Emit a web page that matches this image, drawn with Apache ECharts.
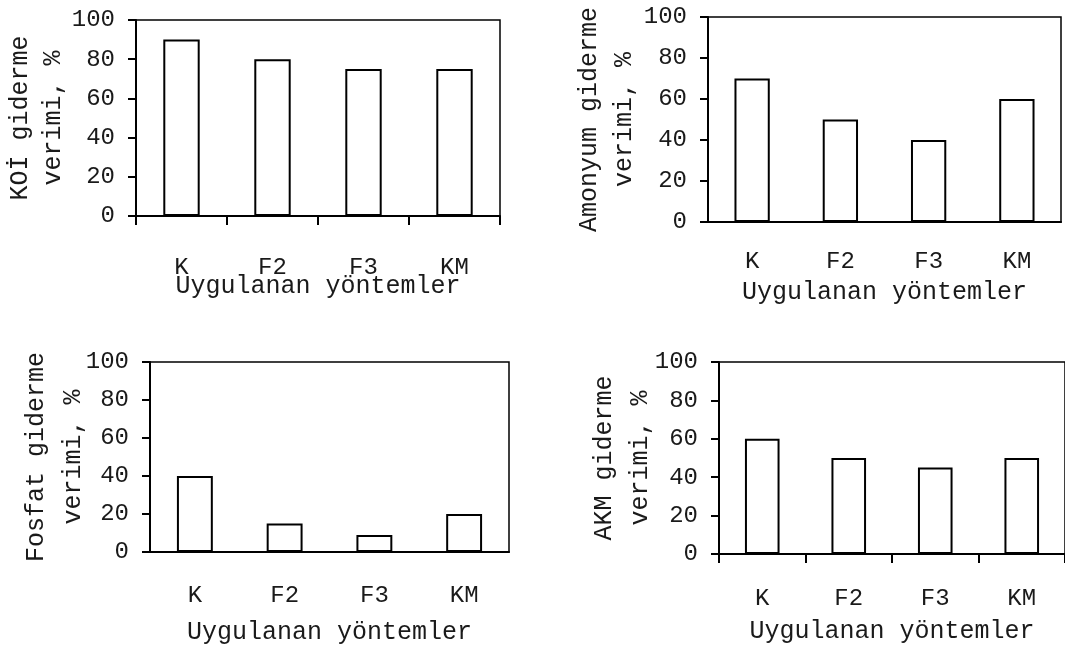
<!DOCTYPE html>
<html>
<head>
<meta charset="utf-8">
<script src="https://cdn.jsdelivr.net/npm/echarts@6/dist/echarts.min.js"></script>
<style>
html,body{margin:0;padding:0;background:#fff;}
#chart{width:1065px;height:648px;}
</style>
</head>
<body>
<div id="chart"></div>
<script>
const categories = ['K', 'F2', 'F3', 'KM'];
const koiValues = [90, 80, 75, 75];
const amonyumValues = [70, 50, 40, 60];
const fosfatValues = [40, 15, 9, 20];
const akmValues = [60, 50, 45, 50];
const yNames = ['KOİ giderme\nverimi, %', 'Amonyum giderme\nverimi, %', 'Fosfat giderme\nverimi, %', 'AKM giderme\nverimi, %'];
const xName = 'Uygulanan yöntemler';

const FONT = '"Courier New", Courier, "Nimbus Mono PS", "Nimbus Mono L", FreeMono, "Liberation Mono", monospace';
const TXT = '#1a1a1a';

const panels = [
  {data: koiValues, grid: {left: 136, top: 20, right: 565, bottom: 432}, xTicks: true, labelMargin: 40, xNameGap: 58, yNameGap: 66, lh: 33},
  {data: amonyumValues, grid: {left: 708, top: 17, right: 4, bottom: 426}, xTicks: false, labelMargin: 28, xNameGap: 58, yNameGap: 66, lh: 35},
  {data: fosfatValues, grid: {left: 150, top: 362, right: 556, bottom: 96}, xTicks: false, labelMargin: 32, xNameGap: 68, yNameGap: 58, lh: 37},
  {data: akmValues, grid: {left: 719, top: 362, right: -6, bottom: 94}, xTicks: true, labelMargin: 33, xNameGap: 65, yNameGap: 61, lh: 36}
];

const option = {
  animation: false,
  backgroundColor: '#fff',
  grid: panels.map(p => Object.assign({show: true, borderColor: '#000', borderWidth: 1.5, backgroundColor: 'transparent', containLabel: false}, p.grid)),
  xAxis: panels.map((p, i) => ({
    type: 'category',
    gridIndex: i,
    data: categories,
    name: xName,
    nameLocation: 'middle',
    nameGap: p.xNameGap,
    nameMoveOverlap: false,
    nameTextStyle: {fontFamily: FONT, fontSize: 25, color: TXT},
    axisLine: {show: true, lineStyle: {color: '#000', width: 2}},
    axisTick: {show: p.xTicks, length: 9, alignWithLabel: false, lineStyle: {color: '#000', width: 2}},
    axisLabel: {fontFamily: FONT, fontSize: 24, color: TXT, margin: p.labelMargin},
    splitLine: {show: false}
  })),
  yAxis: panels.map((p, i) => ({
    type: 'value',
    gridIndex: i,
    min: 0,
    max: 100,
    interval: 20,
    name: yNames[i],
    nameLocation: 'middle',
    nameGap: p.yNameGap,
    nameMoveOverlap: false,
    nameTextStyle: {fontFamily: FONT, fontSize: 25, color: TXT, lineHeight: p.lh, align: 'center'},
    axisLine: {show: true, lineStyle: {color: '#000', width: 2}},
    axisTick: {show: true, length: 8, lineStyle: {color: '#000', width: 2}},
    axisLabel: {fontFamily: FONT, fontSize: 24, color: TXT, margin: 21},
    splitLine: {show: false}
  })),
  series: panels.map((p, i) => ({
    type: 'bar',
    xAxisIndex: i,
    yAxisIndex: i,
    data: p.data,
    barWidth: '40%',
    itemStyle: {color: '#fff', borderColor: '#000', borderWidth: 2}
  }))
};

const chart = echarts.init(document.getElementById('chart'), null, {renderer: 'canvas'});
chart.setOption(option);
</script>
</body>
</html>
